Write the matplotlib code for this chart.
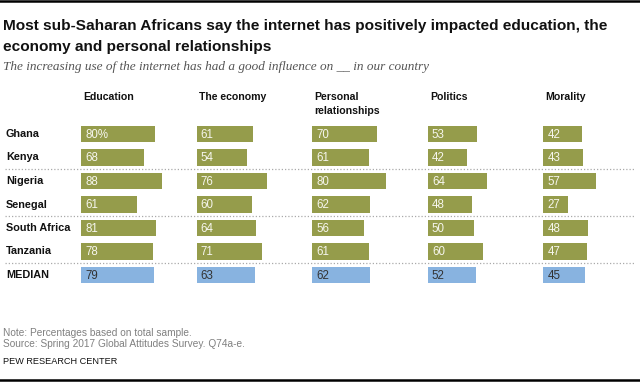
import matplotlib
matplotlib.use("Agg")
import matplotlib.pyplot as plt
from matplotlib import font_manager

# Data
COUNTRIES = ["Ghana", "Kenya", "Nigeria", "Senegal", "South Africa", "Tanzania", "MEDIAN"]
TOPICS = ["Education", "The economy", "Personal\nrelationships", "Politics", "Morality"]
EDUCATION = [80, 68, 88, 61, 81, 78, 79]
ECONOMY = [61, 54, 76, 60, 64, 71, 63]
RELATIONSHIPS = [70, 61, 80, 62, 56, 61, 62]
POLITICS = [53, 42, 64, 48, 50, 60, 52]
MORALITY = [42, 43, 57, 27, 48, 47, 45]
VALUES = [EDUCATION, ECONOMY, RELATIONSHIPS, POLITICS, MORALITY]
SEPARATORS_AFTER = [1, 3, 5]  # dotted lines after Kenya, Senegal, Tanzania

GREEN = "#959c4b"
BLUE = "#88b3e0"

installed = {f.name for f in font_manager.fontManager.ttflist}
NARROW = "Liberation Sans Narrow" if "Liberation Sans Narrow" in installed else "Liberation Sans"
SANS = "Liberation Sans"

W, H = 640, 383
fig = plt.figure(figsize=(W / 100, H / 100), dpi=100)
fig.patch.set_facecolor("white")

# overlay in pixel coordinates for text and rules
ov = fig.add_axes([0, 0, 1, 1])
ov.set_xlim(0, W)
ov.set_ylim(H, 0)
ov.axis("off")

COL_X0 = 81
COL_STEP = 115.6
COL_W = 115
PX_PER_UNIT = 0.925
ROW0 = 134
ROW_STEP = 23.5

ov.plot([0, W], [1, 1], color="black", lw=1.8)
ov.plot([0, W], [380, 380], color="black", lw=1.8)

ov.text(3, 26, "Most sub-Saharan Africans say the internet has positively impacted education, the",
        fontsize=11.1, fontweight="bold", family=NARROW, va="center", color="#111111")
ov.text(3, 47, "economy and personal relationships",
        fontsize=11.1, fontweight="bold", family=NARROW, va="center", color="#111111")
ov.text(3, 67, "The increasing use of the internet has had a good influence on __ in our country",
        fontsize=9.5, style="italic", family="Liberation Serif", va="center", color="#555555")

for i, topic in enumerate(TOPICS):
    ov.text(COL_X0 + 2 + i * COL_STEP, 92, topic, fontsize=7.6, fontweight="bold",
            family=SANS, va="top", linespacing=1.45, color="#111111")

for r, name in enumerate(COUNTRIES):
    ov.text(6, ROW0 + r * ROW_STEP, name, fontsize=7.8, fontweight="bold",
            family=SANS, va="center", color="#111111")

for k in SEPARATORS_AFTER:
    y = ROW0 + (k + 0.5) * ROW_STEP
    ov.plot([5, 634], [y, y], color="#aaaaaa", lw=0.9, ls=(0, (1, 1.6)))

# bar columns
top = ROW0 - ROW_STEP / 2
bot = ROW0 + (len(COUNTRIES) - 0.5) * ROW_STEP
for i, vals in enumerate(VALUES):
    x0 = COL_X0 + i * COL_STEP
    ax = fig.add_axes([x0 / W, 1 - bot / H, COL_W / W, (bot - top) / H])
    ax.set_xlim(0, COL_W / PX_PER_UNIT)
    ax.set_ylim(len(COUNTRIES) - 0.5, -0.5)
    ax.axis("off")
    colors = [GREEN] * (len(vals) - 1) + [BLUE]
    ax.barh(range(len(vals)), vals, height=0.72, color=colors, edgecolor="none")
    for r, v in enumerate(vals):
        label = f"{v}%" if (i == 0 and r == 0) else f"{v}"
        tc = "#333333" if r == len(vals) - 1 else "#f6f6ee"
        ax.text(4.5, r + 0.03, label, fontsize=8.3, family=SANS, va="center", color=tc)

ov.text(3, 333, "Note: Percentages based on total sample.", fontsize=7.3,
        family=SANS, va="center", color="#808080")
ov.text(3, 344, "Source: Spring 2017 Global Attitudes Survey. Q74a-e.", fontsize=7.3,
        family=SANS, va="center", color="#808080")
ov.text(3, 362, "PEW RESEARCH CENTER", fontsize=6.6, family=SANS, va="center", color="#111111")

fig.savefig("out.png", dpi=100)
